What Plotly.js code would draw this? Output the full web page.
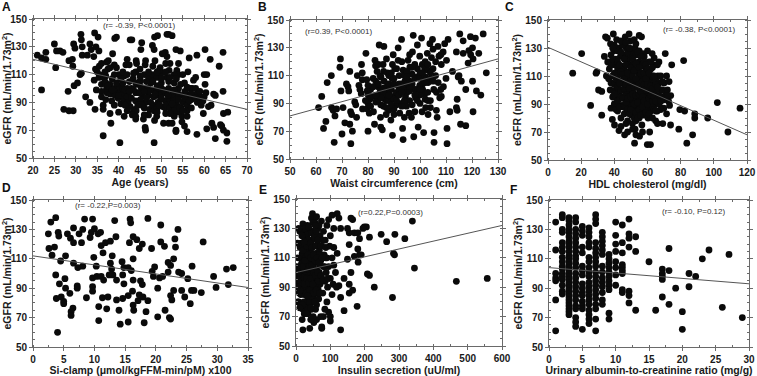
<!DOCTYPE html>
<html>
<head>
<meta charset="utf-8">
<script src="https://cdn.plot.ly/plotly-3.0.1.min.js"></script>
<style>
  html, body { margin: 0; padding: 0; background: #fff; }
  #chart { width: 757px; height: 376px; }
</style>
</head>
<body>
<div id="chart"></div>
<script>
// ---- Panel A: age (years) vs eGFR ----
const ageEgfr = [
  [21,124],[23,126],[22,122],[23,121],[22,99],[25,132],[25.5,127],[26.3,127],[27,126],[25.3,115],
  [28.4,120],[28.2,98],[27.2,85],[28.4,84],[29.4,84],[29.2,121],[29.5,132],[29.8,129],[29.3,116],[29.6,102],
  [30.4,104],[31,110],[31.3,111],[31.5,130],[31.2,139],[31.3,135],[31.5,124],[32.7,124],[32.3,94],[33.3,90],
  [33.3,132],[33.6,128],[34.2,123],[34.4,140],[35.2,137],[34.7,130],[35.4,127],[34.5,85],[34.8,99],[34.6,114],
  [34.3,106],[35.4,108],[36.4,66],[36.4,85],[36.4,88],[37.2,119],[37.6,120],[37,109],[36.8,112],[37.2,100],
  [38.2,75],[38.4,91],[38.6,125],[39.1,136],[39.5,137],[39.5,115],[39.9,98],[39,97],[39.9,93],[40.3,61],
  [41.3,80],[41.3,109],[41.7,117],[42.7,135],[43.1,135],[42.5,117],[42.5,105],[42.3,95],[42.7,87],[43.4,83],
  [43.8,85],[44.1,84],[44.1,120],[44.2,118],[43.4,107],[44.5,97],[45.2,128],[45.4,133],[45.1,106],[45.8,100],
  [45.6,95],[46.3,90],[46.3,120],[46.2,117],[45.8,78],[46.2,72],[46.3,70],[46.9,100],[47.7,107],[47.5,104],
  [47.9,131],[48.3,128],[48.4,137],[49.1,138],[48.4,77],[48.3,61],[48.9,80],[49.1,95],[49.9,92],[50.3,87],
  [50.9,86],[49.7,115],[48.5,120],[50.9,126],[51.3,123],[51.3,139],[51.7,139],[52.5,138],[51.3,108],[51.8,113],
  [51.7,105],[51.7,100],[50.5,75],[51.7,75],[52.5,75],[53,96],[53.6,113],[54,110],[53.4,128],[54.4,127],
  [53.4,92],[53.6,88],[54.4,95],[54.6,86],[54,83],[54.8,80],[53.4,70],[53.4,69],[54.8,76],[55.4,73],
  [55.4,104],[56.2,112],[56.5,122],[56.8,100],[57.2,100],[56.8,96],[56,69],[58.3,124],[58.3,96],[58.4,90],
  [59.3,88],[58.3,67],[60.2,128],[60,110],[60.6,110],[60.2,103],[60.4,97],[59.7,91],[61,87],[59.8,82],
  [60.6,71],[61.4,121],[62.2,96],[61.6,88],[61.8,75],[62.2,72],[62.6,64],[62.6,95],[63.5,116],[64.4,126],
  [64.4,98],[63.8,74],[64.1,73],[64.5,82],[65.5,83],[64.5,70],[65.3,68],[65.3,62],
  [35,112],[35.5,110],[36,103],[36.8,105],[37,104],[37.3,97],[38,103],[38,96],[39,100],[39.2,95],
  [39,88],[40.2,102],[40.5,89],[41,96],[41,100],[41.2,92],[42,100],[42,94],[42.2,90],[43,100],
  [43.2,81],[44,97],[44,91],[44.2,103],[45,105],[45.2,101],[45.1,92],[46,110],[46,86],[47,108],
  [47,95],[47.2,85],[48,110],[48,99],[48.2,94],[48,88],[48.3,84],[49,102],[49,98],[49.2,90],
  [49,86],[49,108],[50,104],[50,100],[50,96],[50,111],[50.2,125],[51,118],[51,97],[51,91],
  [51.2,88],[52,92],[52,86],[52,118],[53,110],[53,104],[53,92],[53,87],[53,84],[54,100],
  [54,96],[54.3,86],[55,90],[55,110],[56,95],[56,88],[56,84],[57,92],[57,86],[58,100],
  [59,94],[59,98],[53,80],[52,82],[51,82],[36,98],[37.5,114],[40,110],[41,104],[44,112],
  [45,97],[47,98],[50,107],[52.5,96],[46.5,105],[43.5,99],[38.5,107],[39,117],[41.5,88],[44,78],
  [49.5,113],[55.5,98],[57.5,106],
  [35.5,116],[36,94],[36.5,108],[37,92],[37.5,102],[38,115],[38.5,99],[39,110],[39.5,104],[40,95],
  [40.5,107],[41,112],[41.5,99],[42,110],[42.5,98],[43,93],[43.5,111],[44,104],[44.5,88],[45,114],
  [45.5,88],[46,98],[46.5,93],[47,112],[47.5,90],[48,105],[48.5,96],[49,112],[49.5,88],[50,93],
  [50.5,99],[51,112],[51.5,95],[52,108],[52.5,89],[53,99],[53.5,107],[54,92],[54.5,103],[55,84],
  [55.5,93],[56,101],[56.5,91],[57,96],[58,93],[49,83],[47,81],[44,80],[42,84],[46,81],
  [40,83],[38,82],[56,80],[60,94],[36,118],[42,121],[48,116],[54,118],[58,108],[45,109]
];
const fitAgeX = [20, 70];
const fitAgeY = [121, 85];

// ---- Panel B: waist circumference (cm) vs eGFR ----
const waistEgfr = [
  [61,87],[62.2,95],[62.9,72],[63.8,77],[64.3,105],[65.9,110],[66,87],[66.6,85],[67,62],[67.3,81],
  [67.9,86],[69.4,122],[69.2,116],[69.6,99],[70,68],[70.4,87],[71.1,76],[71.7,104],[72.3,102],[72.6,99],
  [73,113],[73.4,61],[73.3,84],[73.7,82],[74,70],[73,75],[74.9,91],[75.3,89],[75.6,80],[75.9,110],
  [76.5,103],[76.9,100],[77.5,118],[77.8,112],[77.8,107],[77.4,97],[77.9,86],[79.2,126],[80,70],[79.5,107],
  [79.7,99],[80.1,96],[79.7,86],[80.5,83],[80.7,93],[82.5,75],[82.7,121],[82.9,117],[82.1,84],[84.3,132],
  [83.5,113],[84.6,110],[83.9,102],[84.6,98],[84.9,89],[84.8,80],[84.9,73],[85.5,71],[86.1,131],[85.8,118],
  [86.2,106],[86.5,93],[87.1,122],[87.5,112],[87.3,102],[87.8,98],[88,85],[88.8,78],[89.4,67],[89.4,118],
  [89.3,108],[89.7,125],[90.3,115],[90.6,96],[91,89],[91.6,130],[91.6,121],[92,110],[91.2,103],[92.9,136],
  [92.9,90],[92.2,83],[93.3,72],[93.5,64],[93.5,114],[94.2,106],[94.4,95],[94.8,88],[95.4,121],[96.1,116],
  [95.8,83],[96.7,80],[97.6,66],[97.4,139],[97.1,127],[98,100],[98.3,94],[99,132],[99.3,73],[99,109],
  [99.9,124],[99.9,103],[100.6,137],[100.9,118],[100.8,84],[101.4,69],[101.8,115],[102.1,109],[101.8,97],[102.2,87],
  [102.8,126],[103.1,105],[103.1,82],[103.8,133],[104.4,123],[104.8,136],[105,129],[105.3,100],[105.4,69],[105.4,62],
  [106.3,98],[106.3,85],[106.6,80],[106.9,131],[107.3,124],[107.6,94],[108.2,95],[108.2,118],[108.9,127],[109.5,133],
  [110.2,121],[110.8,136],[110.4,72],[110.4,61],[112.5,113],[111.5,84],[114,127],[114.3,93],[114,87],[114.3,85],
  [114.7,109],[115.3,140],[115,110],[115.9,106],[115.6,75],[116.6,135],[116.6,126],[117.6,74],[117.6,100],[118.5,119],
  [118.8,128],[119.4,138],[119.5,125],[120.2,130],[120.4,122],[120.2,106],[120.4,84],[121.3,137],[121.7,99],[122.6,126],
  [123.4,96],[124.3,140],[125.5,112],
  [80,90],[81,100],[82,95],[83,91],[83,106],[84,93],[85,100],[86,97],[86,88],[87,92],
  [88,104],[88,92],[89,100],[89,95],[90,104],[90,93],[90,86],[91,98],[91,92],[92,100],
  [92,96],[93,104],[93,88],[94,100],[94,110],[95,104],[95,98],[96,106],[96,92],[97,104],
  [97,111],[98,108],[98,118],[99,100],[99,115],[100,112],[100,96],[100,108],[101,104],[101,100],
  [102,120],[103,114],[103,98],[104,108],[104,92],[105,115],[106,110],[107,105],[108,100],[109,102],
  [110,108],[95,113],[93,120],[96,125],[88,110],[86,113],[84,118],[82,102],[80,103],[79,92],
  [97,89],[94,80],[90,82],[87,82],[98,84],[100,90],[102,93],[104,87],[106,120],[108,125],
  [103,118],[96,99],[89,89],[85,94],
  [82,108],[84,104],[86,101],[88,96],[90,108],[92,104],[94,92],[96,102],[98,96],[100,100],
  [102,105],[104,112],[91,115],[85,109],[87,87],[95,109],[99,92],[93,98],[89,112],[101,112],
  [97,116],[105,106],[83,96],[81,88],[103,92]
];
const fitWaistX = [50, 130];
const fitWaistY = [81, 122];

// ---- Panel C: HDL cholesterol (mg/dl) vs eGFR ----
const hdlEgfr = [
  [14.9,112],[20.3,126],[25.7,89],[29,112],[29.5,113],[30.5,100],[32.4,99],[32.4,82],[34,124],[34.7,138],
  [35.8,137],[35.2,110],[36.6,108],[37.7,133],[37.5,100],[38,87],[38.8,79],[39.4,140],[39.7,128],[40.1,75],
  [41.4,136],[41.6,94],[42,115],[42.8,71],[43.7,124],[44.6,89],[45,117],[45.6,108],[46.2,68],[46.6,138],
  [47.2,130],[47.2,103],[48.1,91],[47.4,85],[48.1,122],[48.9,140],[48.9,113],[49.7,135],[50,97],[50.4,82],
  [50.9,76],[50.7,118],[51.3,128],[51.9,105],[52.2,62],[52.5,130],[52.5,72],[53.3,92],[53.7,113],[55,120],
  [55,139],[55.2,100],[55.2,67],[56.4,138],[56.6,110],[57.2,126],[57.4,85],[56.6,75],[58.6,116],[58.4,94],
  [59.5,104],[59.9,61],[60.3,80],[60.9,120],[61.1,88],[61.8,61],[61.3,70],[62.8,126],[62,107],[63.9,98],
  [64.5,90],[64.9,78],[66.3,110],[65.9,85],[66.9,120],[67.7,100],[68.8,95],[69.8,87],[69.2,76],[70.7,126],
  [71.5,83],[71.5,110],[72.7,92],[73.3,89],[73.9,75],[74.6,118],[78.9,72],[79.5,86],[81.8,121],[82.4,85],
  [83.7,62],[87.2,68],[88.5,83],[88.5,80],[96.3,80],[102.1,91],[108.5,70],[115.8,87],
  [36,120],[37,115],[38,105],[38,125],[39,110],[39,95],[40,118],[40,104],[40,90],[41,122],
  [41,100],[42,108],[42,85],[43,112],[43,98],[43,130],[44,105],[44,95],[44,80],[45,125],
  [45,100],[45,88],[46,115],[46,95],[46,83],[47,110],[47,97],[47,125],[48,105],[48,100],
  [48,78],[49,118],[49,108],[49,95],[49,88],[50,125],[50,110],[50,102],[50,90],[51,115],
  [51,100],[51,93],[51,86],[52,120],[52,108],[52,97],[52,80],[53,125],[53,103],[53,88],
  [53,78],[54,115],[54,108],[54,96],[54,85],[55,110],[55,92],[55,80],[56,118],[56,103],
  [56,96],[56,88],[57,112],[57,100],[57,92],[58,108],[58,100],[58,88],[58,82],[59,113],
  [59,97],[59,90],[60,110],[60,100],[60,94],[60,86],[61,105],[61,98],[62,115],[62,100],
  [62,92],[62,85],[63,110],[63,95],[63,88],[64,118],[64,103],[64,86],[65,108],[65,100],
  [66,95],[66,118],[67,105],[67,90],[68,110],[68,86],[69,100],[70,105],[70,93],[71,98],
  [72,100],[73,106],[74,96],[45,132],[44,135],[42,128],[53,133],[60,128],[58,124],[55,128],
  [40,132],[64,123],[57,118],
  [38,118],[39,130],[39,122],[40,112],[40,97],[41,108],[41,86],[42,120],[42,102],[42,92],
  [43,118],[43,105],[43,88],[44,127],[44,113],[44,100],[45,111],[45,94],[46,122],[46,108],
  [46,101],[46,89],[47,134],[47,118],[47,104],[47,91],[48,127],[48,112],[48,94],[48,86],
  [49,130],[49,101],[49,83],[50,116],[50,107],[50,95],[50,86],[51,122],[51,110],[51,97],
  [52,136],[52,114],[52,102],[52,90],[53,119],[53,108],[53,96],[53,84],[54,127],[54,102],
  [54,91],[54,80],[55,116],[55,104],[55,97],[55,86],[56,124],[56,112],[56,99],[56,82],
  [57,106],[57,95],[57,88],[58,120],[58,112],[58,104],[58,92],[59,118],[59,108],[59,100],
  [59,84],[60,115],[60,104],[60,90],[61,112],[61,94],[61,83],[62,120],[62,103],[62,96],
  [63,116],[63,101],[63,92],[64,110],[64,95],[65,104],[65,92],[65,85],[66,102],[67,96],
  [68,92],[69,106],[72,96],[44,74],[48,70],[53,68],[57,70],[63,80],[66,76],[47,76],
  [51,72]
];
const fitHdlX = [0, 120];
const fitHdlY = [130.5, 68];

// ---- Panel D: Si-clamp vs eGFR ----
const siEgfr = [
  [2.5,127],[2.9,135],[2.6,117],[3.1,112.5],[3.7,138],[4.1,128],[3.5,118],[3.7,99],[3.8,83],[4,60],
  [4.2,125.5],[4.5,108.5],[4.3,93],[4.6,84],[5,81],[5.2,96.5],[5.3,112],[5.3,90],[5.6,127],[5,79.5],
  [6.1,124],[6,86.5],[6.5,76.5],[6.2,74],[6.2,71.5],[6.6,121],[6.6,131],[6.6,107],[7.2,91.5],[7.2,90],
  [7.3,104],[7.5,127],[7.9,121],[8.4,137],[8.1,105],[8.7,83.5],[8.1,130],[9.7,137],[9.3,124.5],[9.5,128],
  [9.7,97],[9.7,91],[9.7,88],[10,130.5],[9.9,111],[10.6,127],[10.3,105],[10.4,98],[10.7,77.5],[10.7,68],
  [11,128],[11.1,119],[11.4,114],[11.1,98],[11.3,83.5],[11.5,95.5],[11.8,121],[12.4,99],[12,76],[12.2,84],
  [12.6,107],[12.8,103],[13,99],[12.6,122],[12.9,112],[13.3,136],[13.5,125],[13.6,82],[13.6,95.5],[14,75],
  [14.2,65.5],[14.5,108],[14.8,104],[14.6,99],[14.8,93],[14.6,83],[15.5,67],[15.5,85],[15.5,104],[15.7,121],
  [15.8,137],[15.9,134.5],[16,102],[16.3,110],[16.3,125],[16.3,95.5],[16.2,88],[16.3,78.5],[16.4,75],[16.9,123],
  [17.3,117],[17.1,81.5],[17.3,85.5],[17.5,95],[17.8,120],[17.8,92.5],[17.9,84],[18.1,66.5],[18.4,74],[18.7,81.5],
  [18.7,137.5],[19.3,117],[19.6,98],[19.4,101.5],[19.8,104.5],[20.3,70.5],[20.3,90],[20.8,121.5],[20.6,97],[21.1,98],
  [20.8,133],[21.4,118.5],[22,107.5],[22.4,105.5],[22,101],[21.5,75],[22.2,70],[22.4,69],[22.4,85],[22.6,82],
  [22.9,88.5],[22.9,110],[23.2,118],[23.1,123.5],[23.6,130],[23.7,101],[24.2,100],[24.2,88.5],[24.7,84],[25.2,96.5],
  [25.6,79.5],[25.8,88.5],[26.2,88.5],[25.9,105],[27.7,121.5],[27.4,87],[29.4,98],[29.8,90.5],[31.5,103],[31.8,92.5],
  [32.6,104]
];
const fitSiX = [0, 35];
const fitSiY = [112, 90.5];

// ---- Panel E: insulin secretion (uU/ml) vs eGFR ----
const insulinEgfr = [
  [339,135],[317,123],[288,126],[264,121],[248,126],[284,113],[287,112],[345,103],[467,94],[557,96],
  [281,83],[228,90],[214,98],[208,99],[214,124],[199,131],[205,131],[195,130],[190,112],[185,112],
  [181,107],[178,77],[180,116],[170,127],[165,136],[160,137],[155,127],[155,119],[150,109],[155,92],
  [155,86],[165,88],[140,74],[130,83],[130,61],[120,140],[125,137],[130,130],[105,139],[95,136],
  [100,125],[110,117],[100,70],[100,67],[95,73],[75,63],[75,62],[40,62],[20,61],[80,70],
  [60,68],[170,111],[140,96],[160,100],[110,105],[150,130],[180,127],[185,123],[120,113],[125,91],
  [105,85],[90,80],
  [5,80],[8,80],[10,100],[10,92],[12,117],[15,120],[15,96],[18,68],[20,75],[22,128],
  [20,133],[12,104],[14,110],[16,88],[18,113],[20,105],[22,95],[24,85],[25,100],[25,118],
  [28,110],[28,92],[30,125],[30,100],[30,80],[32,115],[32,90],[34,105],[35,130],[35,95],
  [35,72],[38,120],[38,110],[38,98],[38,86],[40,127],[40,102],[40,92],[42,115],[42,84],
  [44,108],[44,96],[45,137],[45,75],[46,122],[46,100],[48,140],[48,112],[48,88],[50,128],
  [50,104],[50,94],[50,70],[52,118],[52,82],[54,108],[54,98],[55,134],[55,90],[56,124],
  [58,113],[58,86],[60,102],[60,78],[62,119],[62,95],[64,130],[64,108],[65,88],[66,82],
  [68,115],[68,100],[70,125],[70,92],[72,108],[72,70],[75,118],[75,96],[78,86],[80,128],
  [80,104],[82,112],[85,122],[85,94],[88,100],[90,132],[90,110],[92,90],[95,104],[98,118],
  [100,96],[105,110],[108,92],[110,130],[115,100],[118,90],[60,138],[52,66],[30,108],[26,125],
  [18,97],[33,132],[47,80],[57,75],[66,112],[74,135],[84,75],[43,68],[24,72],[36,88],
  [62,90],[54,123],[44,118],[28,101],[14,85],[9,93],[70,105],[78,122],[86,110],[40,113],
  [58,96],[34,126],[46,128],[52,106],[27,116],[42,100],[56,92],[36,102],[48,97],[32,84],
  [4,120],[6,110],[7,98],[9,86],[11,128],[13,92],[14,78],[16,106],[17,125],[19,88],
  [21,115],[22,102],[23,80],[25,92],[26,108],[27,130],[29,86],[31,118],[31,96],[33,76],
  [33,104],[35,112],[36,122],[37,93],[39,80],[39,104],[41,120],[41,88],[43,110],[43,96],
  [45,127],[45,84],[47,105],[47,117],[49,92],[49,134],[51,112],[51,86],[53,100],[53,124],
  [55,108],[55,80],[57,118],[57,98],[59,88],[59,128],[61,110],[63,100],[63,122],[65,94],
  [67,107],[67,132],[69,86],[71,118],[73,98],[76,110],[79,95],[83,104],[87,117],[93,96],
  [8,130],[12,88],[18,104],[24,121],[34,84],[37,131],[43,76],[56,132],[29,72],[19,78],
  [11,76],[3,90],[6,100],[3,104],[5,95]
];
const fitInsulinX = [0, 600];
const fitInsulinY = [100, 132];

// ---- Panel F: urinary albumin-to-creatinine ratio (mg/g) vs eGFR ----
// values are grouped by ratio: uacrLevels[i] pairs with egfrByUacr[i]
const uacrLevels = [1, 2, 3, 4, 5, 6, 7, 8, 9, 10, 11, 12, 13, 15, 16, 17, 18, 19, 20, 21, 22, 23, 24, 26, 27, 29];
const egfrByUacr = [
  [135,116,100,97,95,82,61],
  [140,138,130,128,121,118,115,111,108,105,103,100,98,96,92,88,86],
  [138,136,133,130,128,125,122,120,118,115,112,110,108,106,104,102,100,98,96,94,92,90,88,86,84,82,80,78,76,74,72],
  [138,135,130,127,124,121,118,115,112,110,107,104,100,97,94,91,88,85,82,78,76,70,67,64],
  [132,129,126,118,114,105,102,99,93,90,87,85,81,78,76,62],
  [131,128,125,121,118,111,108,104,101,98,94,91,88,85,82,79,75,72,69,66],
  [140,137,134,121,117,114,111,108,105,101,98,95,92,89,86,83,79,76,69,61],
  [128,125,122,119,116,113,105,101,97,94,91,87,82,79],
  [113,110,107,104,101,98,95,92,89,73,69],
  [135,126,120,115,108,104,99,92],
  [133,121,114,106,104,102,100,89,87],
  [137,127,124,118,88,85,80],
  [125,115,75],
  [108],
  [75],
  [103,100,98,96,84],
  [117,102,79],
  [90],
  [74,62],
  [100,91],
  [98],
  [110],
  [116],
  [77],
  [113],
  [70]
];
const fitUacrX = [0, 30];
const fitUacrY = [104, 93];

// ---- panel text ----
const panelLetters = ['A', 'B', 'C', 'D', 'E', 'F'];
const xTitles = [
  'Age (years)',
  'Waist circumference (cm)',
  'HDL cholesterol (mg/dl)',
  'Si-clamp (\u03bcmol/kgFFM-min/pM) x100',
  'Insulin secretion (uU/ml)',
  'Urinary albumin-to-creatinine ratio (mg/g)'
];
const statLabels = [
  '(r= -0.39, P<0.0001)',
  '(r=0.39, P<0.0001)',
  '(r= -0.38, P<0.0001)',
  '(r= -0.22,P=0.003)',
  '(r=0.22,P=0.0003)',
  '(r= -0.10, P=0.12)'
];
const yTitle = 'eGFR (mL/min/1.73m<sup>2</sup>)';

// ---- build figure ----
const W = 757, H = 376;
// plot-area boxes in page pixels [left, top, right, bottom]
const boxes = [
  [33, 19, 247, 158],
  [290, 20, 498, 159],
  [548, 20, 747, 160],
  [33, 200, 248, 347],
  [296, 199, 502, 346],
  [549, 200, 749, 347]
];
const xRanges = [[20, 70], [50, 130], [0, 120], [0, 35], [0, 600], [0, 30]];
const xSteps = [5, 10, 20, 5, 100, 5];

const flatF = [];
uacrLevels.forEach((u, i) => egfrByUacr[i].forEach(v => flatF.push([u, v])));

const scatterSets = [ageEgfr, waistEgfr, hdlEgfr, siEgfr, insulinEgfr, flatF];
const fits = [
  [fitAgeX, fitAgeY], [fitWaistX, fitWaistY], [fitHdlX, fitHdlY],
  [fitSiX, fitSiY], [fitInsulinX, fitInsulinY], [fitUacrX, fitUacrY]
];
const statPos = [
  {x: 44.8, y: 145.5, anchor: 'center'},
  {x: 55, y: 141.5, anchor: 'left'},
  {x: 91, y: 143, anchor: 'center'},
  {x: 12.2, y: 146, anchor: 'center'},
  {x: 274, y: 141, anchor: 'center'},
  {x: 21.7, y: 142, anchor: 'center'}
];
const letterPos = [[6, 7], [262, 7], [509, 7], [6, 188], [263, 190], [513, 190]];

const FONT = 'Liberation Sans, Arial, sans-serif';
const axisColor = '#6a6a6a';
const traces = [];
const layout = {
  width: W, height: H,
  margin: {l: 0, r: 0, t: 0, b: 0},
  paper_bgcolor: '#fff', plot_bgcolor: '#fff',
  showlegend: false,
  font: {family: FONT, color: '#111'},
  annotations: []
};

boxes.forEach((b, i) => {
  const n = i === 0 ? '' : String(i + 1);
  const xa = 'x' + n, ya = 'y' + n;
  const pts = scatterSets[i];
  traces.push({
    type: 'scatter', mode: 'markers', xaxis: xa, yaxis: ya,
    x: pts.map(p => p[0]), y: pts.map(p => p[1]),
    marker: {color: '#0a0a0a', size: 6.8, line: {width: 0}},
    hoverinfo: 'skip', cliponaxis: true
  });
  traces.push({
    type: 'scatter', mode: 'lines', xaxis: xa, yaxis: ya,
    x: fits[i][0], y: fits[i][1],
    line: {color: '#555', width: 1}, hoverinfo: 'skip'
  });

  const common = {
    showline: true, linecolor: axisColor, linewidth: 1, mirror: 'ticks',
    ticks: 'outside', ticklen: 3, tickcolor: axisColor, tickwidth: 1,
    showgrid: false, zeroline: false, fixedrange: true,
    ticklabeloverflow: 'allow',
    tickfont: {family: FONT, size: 10, weight: 700, color: '#1a1a1a'}
  };
  layout['xaxis' + n] = Object.assign({}, common, {
    domain: [b[0] / W, b[2] / W], anchor: ya,
    range: xRanges[i], dtick: xSteps[i], tick0: xRanges[i][0],
    minor: {ticks: 'inside', ticklen: 2, dtick: xSteps[i] / 2, tickcolor: axisColor, showgrid: false},
    title: {text: xTitles[i], font: {family: FONT, size: 10.5, weight: 700, color: '#1a1a1a'}, standoff: 2}
  });
  layout['yaxis' + n] = Object.assign({}, common, {
    domain: [1 - b[3] / H, 1 - b[1] / H], anchor: xa,
    range: [50, 150], dtick: 20, tick0: 50,
    minor: {ticks: 'inside', ticklen: 2, dtick: 5, tickcolor: axisColor, showgrid: false},
    title: {text: yTitle, font: {family: FONT, size: 10.5, weight: 700, color: '#1a1a1a'}, standoff: 1}
  });

  layout.annotations.push({
    xref: xa, yref: ya, x: statPos[i].x, y: statPos[i].y,
    xanchor: statPos[i].anchor, yanchor: 'middle', showarrow: false,
    text: statLabels[i], font: {family: FONT, size: 8, color: '#333'}
  });
  layout.annotations.push({
    xref: 'paper', yref: 'paper',
    x: letterPos[i][0] / W, y: 1 - letterPos[i][1] / H,
    xanchor: 'center', yanchor: 'middle', showarrow: false,
    text: panelLetters[i], font: {family: FONT, size: 12, weight: 700, color: '#111'}
  });
});

Plotly.newPlot('chart', traces, layout, {staticPlot: true, displayModeBar: false});
</script>
</body>
</html>
